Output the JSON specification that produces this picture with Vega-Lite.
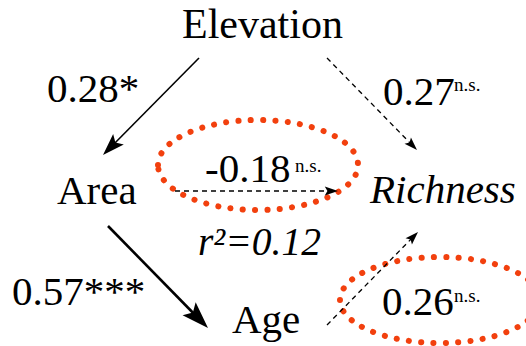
{
  "$schema": "https://vega.github.io/schema/vega-lite/v6.json",
  "width": 526,
  "height": 346,
  "padding": 0,
  "autosize": {"type": "fit", "contains": "padding"},
  "background": "white",
  "config": {"view": {"stroke": null}},
  "datasets": {
    "texts": [
      {"label": "Elevation", "x": 182, "y": 38, "size": 42},
      {"label": "Area", "x": 57, "y": 204, "size": 41},
      {"label": "Age", "x": 232, "y": 333, "size": 41},
      {"label": "0.28*", "x": 47, "y": 102, "size": 41},
      {"label": "0.27", "x": 383, "y": 105, "size": 41},
      {"label": "-0.18", "x": 205, "y": 182, "size": 41},
      {"label": "0.57***", "x": 12, "y": 305, "size": 41},
      {"label": "0.26", "x": 382, "y": 315, "size": 41},
      {"label": "n.s.", "x": 454, "y": 91, "size": 19},
      {"label": "n.s.", "x": 295, "y": 172, "size": 19},
      {"label": "n.s.", "x": 454, "y": 302, "size": 19}
    ],
    "italics": [
      {"label": "Richness", "x": 370, "y": 203, "size": 41},
      {"label": "r²=0.12", "x": 198, "y": 255, "size": 39.5}
    ],
    "solid": [
      {"from": "Elevation", "to": "Area", "x": 199, "y": 58, "x2": 108, "y2": 150, "w": 1.6},
      {"from": "Area", "to": "Age", "x": 108, "y": 226, "x2": 202, "y2": 322, "w": 2.6}
    ],
    "dashed": [
      {"from": "Elevation", "to": "Richness", "x": 327, "y": 58, "x2": 414, "y2": 147},
      {"from": "Area", "to": "Richness", "x": 175, "y": 191, "x2": 334, "y2": 191},
      {"from": "Age", "to": "Richness", "x": 327, "y": 325, "x2": 415, "y2": 235}
    ],
    "heads": [
      {"to": "Area", "x": 103, "y": 155, "angle": 224.7, "size": 1936},
      {"to": "Richness", "x": 417, "y": 150, "angle": 135.6, "size": 700},
      {"to": "Richness", "x": 338, "y": 191, "angle": 90, "size": 700},
      {"to": "Age", "x": 208, "y": 328, "angle": 135.6, "size": 2916},
      {"to": "Richness", "x": 418, "y": 232, "angle": 44.4, "size": 700}
    ],
    "ellipses": [
      {"name": "-0.18", "x": 258, "y": 165, "size": 40000, "path": "M-1,0C-1,-0.2485,-0.5523,-0.45,0,-0.45C0.5523,-0.45,1,-0.2485,1,0C1,0.2485,0.5523,0.45,0,0.45C-0.5523,0.45,-1,0.2485,-1,0Z"},
      {"name": "0.26", "x": 440, "y": 300, "size": 40000, "path": "M-1,0C-1,-0.2375,-0.5523,-0.43,0,-0.43C0.5523,-0.43,1,-0.2375,1,0C1,0.2375,0.5523,0.43,0,0.43C-0.5523,0.43,-1,0.2375,-1,0Z"}
    ],
    "corner": [
      {"label": "b", "x": -18, "y": 12}
    ]
  },
  "layer": [
    {
      "data": {"name": "ellipses"},
      "mark": {"type": "point", "filled": false, "stroke": "#f2400e", "strokeWidth": 6, "strokeDash": [0.1, 12.2], "strokeCap": "round", "opacity": 1, "clip": true},
      "encoding": {
        "x": {"field": "x", "type": "quantitative", "scale": {"domain": [0, 526], "nice": false, "zero": false}, "axis": null},
        "y": {"field": "y", "type": "quantitative", "scale": {"domain": [0, 346], "nice": false, "zero": false, "reverse": true}, "axis": null},
        "shape": {"field": "path", "type": "nominal", "scale": null, "legend": null},
        "size": {"field": "size", "type": "quantitative", "scale": null, "legend": null}
      }
    },
    {
      "data": {"name": "solid"},
      "mark": {"type": "rule", "color": "black"},
      "encoding": {
        "x": {"field": "x", "type": "quantitative"},
        "y": {"field": "y", "type": "quantitative"},
        "x2": {"field": "x2"},
        "y2": {"field": "y2"},
        "strokeWidth": {"field": "w", "type": "quantitative", "scale": null, "legend": null}
      }
    },
    {
      "data": {"name": "dashed"},
      "mark": {"type": "rule", "color": "black", "strokeWidth": 1.3, "strokeDash": [5, 4]},
      "encoding": {
        "x": {"field": "x", "type": "quantitative"},
        "y": {"field": "y", "type": "quantitative"},
        "x2": {"field": "x2"},
        "y2": {"field": "y2"}
      }
    },
    {
      "data": {"name": "heads"},
      "mark": {"type": "point", "filled": true, "color": "black", "opacity": 1, "shape": "M0,0L-0.34,1L0,0.8L0.34,1Z"},
      "encoding": {
        "x": {"field": "x", "type": "quantitative"},
        "y": {"field": "y", "type": "quantitative"},
        "angle": {"field": "angle", "type": "quantitative", "scale": null},
        "size": {"field": "size", "type": "quantitative", "scale": null, "legend": null}
      }
    },
    {
      "data": {"name": "texts"},
      "mark": {"type": "text", "font": "Liberation Serif", "align": "left", "baseline": "alphabetic", "color": "black"},
      "encoding": {
        "x": {"field": "x", "type": "quantitative"},
        "y": {"field": "y", "type": "quantitative"},
        "text": {"field": "label"},
        "size": {"field": "size", "type": "quantitative", "scale": null, "legend": null}
      }
    },
    {
      "data": {"name": "italics"},
      "mark": {"type": "text", "font": "Liberation Serif", "fontStyle": "italic", "align": "left", "baseline": "alphabetic", "color": "black"},
      "encoding": {
        "x": {"field": "x", "type": "quantitative"},
        "y": {"field": "y", "type": "quantitative"},
        "text": {"field": "label"},
        "size": {"field": "size", "type": "quantitative", "scale": null, "legend": null}
      }
    },
    {
      "data": {"name": "corner"},
      "mark": {"type": "text", "font": "Liberation Serif", "fontWeight": "bold", "fontSize": 32, "align": "left", "baseline": "alphabetic", "color": "black", "clip": true},
      "encoding": {
        "x": {"field": "x", "type": "quantitative"},
        "y": {"field": "y", "type": "quantitative"},
        "text": {"field": "label"}
      }
    }
  ]
}
